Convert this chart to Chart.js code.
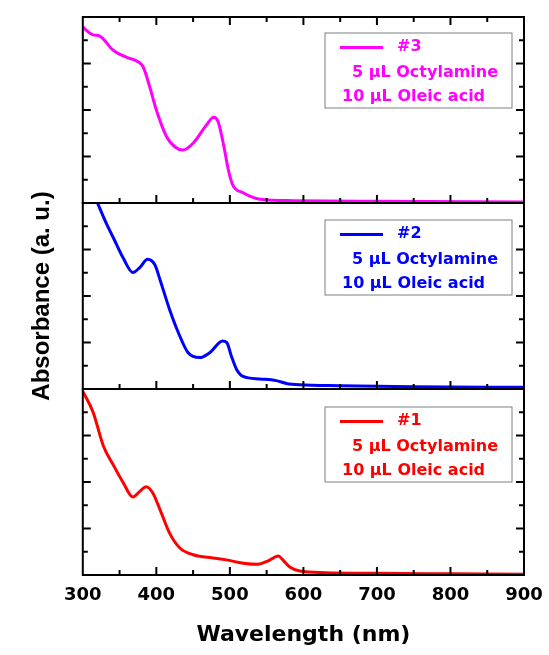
<!DOCTYPE html>
<html>
<head>
<meta charset="utf-8">
<script src="https://cdn.jsdelivr.net/npm/chart.js@4.4.0/dist/chart.umd.min.js"></script>
<style>
    body { margin: 0; background: #fff; }
</style>
</head>
<body>
<canvas id="abs-chart" width="549" height="655"></canvas>
<script>
// sample #1 (red, bottom panel)
const wl1 = [300, 314, 328, 341, 355, 368, 378, 386, 395, 405, 418, 432, 450, 473, 495, 518, 538, 552, 566, 572, 582, 595, 630, 700, 800, 900];
const abs1 = [7.9, 7.0, 5.55, 4.76, 3.97, 3.36, 3.61, 3.80, 3.54, 2.81, 1.80, 1.16, 0.87, 0.75, 0.65, 0.51, 0.46, 0.61, 0.82, 0.65, 0.33, 0.17, 0.10, 0.07, 0.05, 0.03];

// sample #2 (blue, middle panel)
const wl2 = [320, 332, 343, 355, 368, 378, 388, 398, 405, 418, 430, 443, 459, 473, 490, 496, 502, 509, 518, 541, 563, 577, 595, 650, 750, 900];
const abs2 = [8.0, 7.12, 6.41, 5.63, 5.01, 5.24, 5.58, 5.34, 4.70, 3.42, 2.42, 1.57, 1.35, 1.57, 2.06, 1.99, 1.42, 0.85, 0.54, 0.43, 0.36, 0.24, 0.18, 0.14, 0.10, 0.07];

// sample #3 (magenta, top panel)
const wl3 = [300, 305, 314, 323, 341, 359, 375, 382, 391, 400, 414, 425, 436, 450, 468, 478, 484, 491, 498, 504, 518, 541, 586, 700, 900];
const abs3 = [7.58, 7.42, 7.23, 7.18, 6.58, 6.27, 6.08, 5.86, 5.00, 4.00, 2.85, 2.42, 2.28, 2.57, 3.35, 3.69, 3.50, 2.57, 1.42, 0.77, 0.44, 0.16, 0.10, 0.07, 0.04];

const xTicks = [300, 400, 500, 600, 700, 800, 900];
const sampleNames = ['#1', '#2', '#3'];
const amineLabel = '5 \u03bcL Octylamine';
const acidLabel = '10 \u03bcL Oleic acid';
const colors = ['#ff0000', '#0000ff', '#ff00ff'];

const toPoints = (xs, ys) => xs.map((x, i) => ({x: x, y: ys[i]}));

// top-to-bottom order of the panels
const panels = [
    {axis: 'y3', name: sampleNames[2], color: colors[2]},
    {axis: 'y2', name: sampleNames[1], color: colors[1]},
    {axis: 'y1', name: sampleNames[0], color: colors[0]},
];

const framePlugin = {
    id: 'frame',
    afterDraw(chart) {
        const ctx = chart.ctx;
        const xs = chart.scales.x;
        const left = chart.chartArea.left;
        const right = chart.chartArea.right;
        const line = (x1, y1, x2, y2) => {
            ctx.beginPath();
            ctx.moveTo(x1, y1);
            ctx.lineTo(x2, y2);
            ctx.stroke();
        };
        ctx.save();
        ctx.strokeStyle = '#000';
        panels.forEach((p, i) => {
            const ys = chart.scales[p.axis];
            const top = ys.top;
            const bottom = ys.bottom;
            ctx.lineWidth = 2;
            ctx.strokeRect(left, top, right - left, bottom - top);
            for (let v = 1; v < 8; v++) {
                const py = ys.getPixelForValue(v);
                const len = v % 2 === 0 ? 8 : 5;
                line(left, py, left + len, py);
                line(right, py, right - len, py);
            }
            for (let w = 350; w < 900; w += 50) {
                const px = xs.getPixelForValue(w);
                const len = w % 100 === 0 ? 8 : 5;
                line(px, bottom, px, bottom - len);
                if (i === 0) line(px, top, px, top + len);
            }
            // legend box
            const bx = right - 199;
            const by = top + 16 + i;
            ctx.lineWidth = 1;
            ctx.strokeStyle = '#7f7f7f';
            ctx.strokeRect(bx, by, 187, 75);
            ctx.strokeStyle = p.color;
            ctx.lineWidth = 3;
            line(bx + 15, by + 14.5, bx + 58, by + 14.5);
            ctx.fillStyle = p.color;
            ctx.font = 'bold 16px "DejaVu Sans"';
            ctx.textBaseline = 'middle';
            ctx.fillText(p.name, bx + 72, by + 14);
            ctx.fillText(amineLabel, bx + 27, by + 40);
            ctx.fillText(acidLabel, bx + 17, by + 64);
            ctx.strokeStyle = '#000';
        });
        ctx.restore();
    }
};

const panelAxis = (showTitle) => ({
    type: 'linear',
    position: 'left',
    stack: 'panels',
    stackWeight: 1,
    min: 0,
    max: 8,
    ticks: {display: false},
    grid: {display: false, drawTicks: false},
    border: {display: false},
    title: {
        display: true,
        text: showTitle ? 'Absorbance (a. u.)' : '',
        color: '#000',
        font: {family: '"Liberation Sans", Arial', weight: 'bold', size: 24},
        padding: {top: 0, bottom: 26}
    }
});

const absChart = new Chart(
    document.getElementById('abs-chart'), {
        type: 'line',
        data: {
            datasets: [
                {label: sampleNames[2], data: toPoints(wl3, abs3), yAxisID: 'y3', borderColor: colors[2]},
                {label: sampleNames[1], data: toPoints(wl2, abs2), yAxisID: 'y2', borderColor: colors[1]},
                {label: sampleNames[0], data: toPoints(wl1, abs1), yAxisID: 'y1', borderColor: colors[0]},
            ].map(d => Object.assign(d, {
                borderWidth: 3,
                pointRadius: 0,
                fill: false,
                cubicInterpolationMode: 'monotone'
            }))
        },
        options: {
            responsive: false,
            animation: false,
            layout: {padding: {left: 28, right: 25, top: 17, bottom: 0}},
            plugins: {
                legend: {display: false},
                tooltip: {enabled: false}
            },
            scales: {
                x: {
                    type: 'linear',
                    min: 300,
                    max: 900,
                    afterBuildTicks: (axis) => { axis.ticks = xTicks.map(v => ({value: v})); },
                    afterFit: (axis) => { axis.paddingLeft = 0; axis.paddingRight = 0; },
                    ticks: {
                        color: '#000',
                        padding: 10,
                        maxRotation: 0,
                        font: {family: '"DejaVu Sans"', weight: 'bold', size: 18}
                    },
                    grid: {display: false, drawTicks: false},
                    border: {display: false},
                    title: {
                        display: true,
                        text: 'Wavelength (nm)',
                        color: '#000',
                        font: {family: '"DejaVu Sans"', weight: 'bold', size: 22},
                        padding: {top: 5, bottom: 7}
                    }
                },
                // stacked axes are laid out bottom-up in definition order
                y1: panelAxis(false),
                y2: panelAxis(true),
                y3: panelAxis(false)
            }
        },
        plugins: [framePlugin]
    }
);
</script>
</body>
</html>
